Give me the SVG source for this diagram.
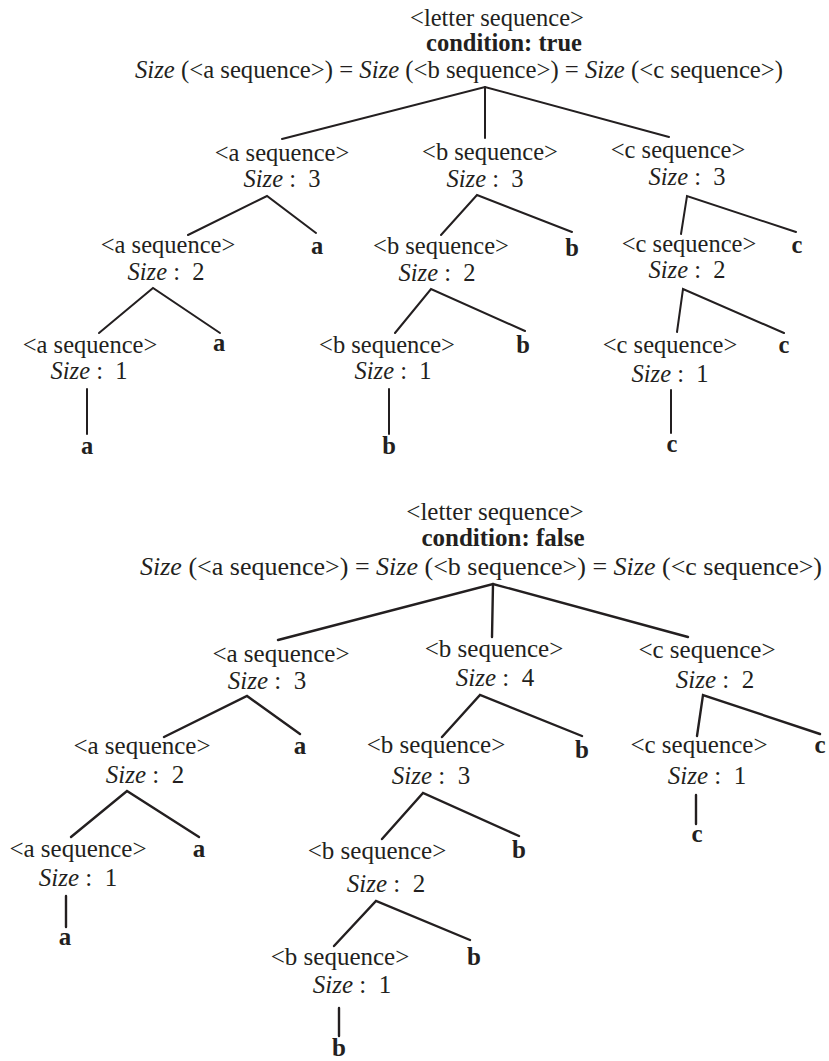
<svg xmlns="http://www.w3.org/2000/svg" width="829" height="1061" viewBox="0 0 829 1061">
  <style>
    text { font-family: "Liberation Serif", "Times New Roman", serif; fill: #231f20; text-anchor: middle; white-space: pre; }
    .t1 text { font-size: 24.5px; }
    .t2 text { font-size: 25px; }
    text.hd { text-anchor: start; }
    .b { font-weight: bold; }
    .it { font-style: italic; }
    .edge { stroke: #231f20; stroke-width: 2; fill: none; stroke-linecap: round; }
    .t2 .edge { stroke-width: 2.4; }
  </style>
  <rect width="829" height="1061" fill="#ffffff"/>

  <!-- ===== Tree 1: condition true ===== -->
  <g class="t1">
    <g id="connectors-1">
      <polyline class="edge" points="282,139 485,87 669,137"/>
      <line class="edge" x1="485" y1="87" x2="485" y2="138"/>
      <polyline class="edge" points="188,235 267,196 316,233"/>
      <polyline class="edge" points="441,235 477,195 572,232"/>
      <polyline class="edge" points="681,234 687,196 796,232"/>
      <polyline class="edge" points="99,333 153,288 220,333"/>
      <polyline class="edge" points="395,333 431,289 525,331"/>
      <polyline class="edge" points="677,332 683,289 784,333"/>
      <line class="edge" x1="87" y1="389" x2="87" y2="434"/>
      <line class="edge" x1="389" y1="389" x2="389" y2="434"/>
      <line class="edge" x1="671" y1="390" x2="671" y2="433"/>
    </g>

    <g id="t1-root">
      <text x="497" y="26">&lt;letter sequence&gt;</text>
      <text x="504" y="51" class="b">condition: true</text>
      <text class="hd" x="135" y="78" textLength="648" lengthAdjust="spacingAndGlyphs"><tspan class="it">Size</tspan> (&lt;a sequence&gt;) = <tspan class="it">Size</tspan> (&lt;b sequence&gt;) = <tspan class="it">Size</tspan> (&lt;c sequence&gt;)</text>
    </g>

    <g id="t1-a3">
      <text x="282" y="161">&lt;a sequence&gt;</text>
      <text x="282" y="187"><tspan class="it">Size</tspan> :  3</text>
    </g>
    <g id="t1-b3">
      <text x="490" y="160">&lt;b sequence&gt;</text>
      <text x="485" y="187"><tspan class="it">Size</tspan> :  3</text>
    </g>
    <g id="t1-c3">
      <text x="678" y="158">&lt;c sequence&gt;</text>
      <text x="687" y="185"><tspan class="it">Size</tspan> :  3</text>
    </g>

    <g id="t1-a2">
      <text x="168" y="253">&lt;a sequence&gt;</text>
      <text x="166" y="280"><tspan class="it">Size</tspan> :  2</text>
    </g>
    <g id="t1-a3-leaf"><text x="317" y="254" class="b">a</text></g>
    <g id="t1-b2">
      <text x="441" y="254">&lt;b sequence&gt;</text>
      <text x="437" y="281"><tspan class="it">Size</tspan> :  2</text>
    </g>
    <g id="t1-b3-leaf"><text x="572" y="256" class="b">b</text></g>
    <g id="t1-c2">
      <text x="689" y="252">&lt;c sequence&gt;</text>
      <text x="687" y="278"><tspan class="it">Size</tspan> :  2</text>
    </g>
    <g id="t1-c3-leaf"><text x="797" y="253" class="b">c</text></g>

    <g id="t1-a1">
      <text x="90" y="353">&lt;a sequence&gt;</text>
      <text x="89" y="379"><tspan class="it">Size</tspan> :  1</text>
    </g>
    <g id="t1-a2-leaf"><text x="219" y="351" class="b">a</text></g>
    <g id="t1-b1">
      <text x="387" y="353">&lt;b sequence&gt;</text>
      <text x="393" y="379"><tspan class="it">Size</tspan> :  1</text>
    </g>
    <g id="t1-b2-leaf"><text x="523" y="353" class="b">b</text></g>
    <g id="t1-c1">
      <text x="670" y="353">&lt;c sequence&gt;</text>
      <text x="670" y="382"><tspan class="it">Size</tspan> :  1</text>
    </g>
    <g id="t1-c2-leaf"><text x="784" y="353" class="b">c</text></g>

    <g id="t1-a1-leaf"><text x="87" y="454" class="b">a</text></g>
    <g id="t1-b1-leaf"><text x="389" y="454" class="b">b</text></g>
    <g id="t1-c1-leaf"><text x="672" y="452" class="b">c</text></g>
  </g>

  <!-- ===== Tree 2: condition false ===== -->
  <g class="t2">
    <g id="connectors-2">
      <polyline class="edge" points="278,640 493,584 688,637"/>
      <line class="edge" x1="493" y1="584" x2="492" y2="637"/>
      <polyline class="edge" points="164,737 247,696 300,734"/>
      <polyline class="edge" points="442,737 480,695 582,736"/>
      <polyline class="edge" points="697,736 703,695 820,734"/>
      <polyline class="edge" points="71,837 127,791 199,837"/>
      <polyline class="edge" points="382,839 423,793 519,836"/>
      <polyline class="edge" points="334,946 376,901 470,940"/>
      <line class="edge" x1="66" y1="896" x2="66" y2="927"/>
      <line class="edge" x1="339" y1="1008" x2="339" y2="1036"/>
      <line class="edge" x1="696" y1="795" x2="696" y2="824"/>
    </g>

    <g id="t2-root">
      <text x="495" y="520">&lt;letter sequence&gt;</text>
      <text x="503" y="546" class="b">condition: false</text>
      <text class="hd" x="140" y="575" textLength="682" lengthAdjust="spacingAndGlyphs"><tspan class="it">Size</tspan> (&lt;a sequence&gt;) = <tspan class="it">Size</tspan> (&lt;b sequence&gt;) = <tspan class="it">Size</tspan> (&lt;c sequence&gt;)</text>
    </g>

    <g id="t2-a3">
      <text x="281" y="662">&lt;a sequence&gt;</text>
      <text x="267" y="689"><tspan class="it">Size</tspan> :  3</text>
    </g>
    <g id="t2-b4">
      <text x="494" y="657">&lt;b sequence&gt;</text>
      <text x="495" y="686"><tspan class="it">Size</tspan> :  4</text>
    </g>
    <g id="t2-c2">
      <text x="707" y="658">&lt;c sequence&gt;</text>
      <text x="715" y="688"><tspan class="it">Size</tspan> :  2</text>
    </g>

    <g id="t2-a2">
      <text x="142" y="754">&lt;a sequence&gt;</text>
      <text x="145" y="783"><tspan class="it">Size</tspan> :  2</text>
    </g>
    <g id="t2-a3-leaf"><text x="300" y="754" class="b">a</text></g>
    <g id="t2-b3">
      <text x="436" y="753">&lt;b sequence&gt;</text>
      <text x="431" y="784"><tspan class="it">Size</tspan> :  3</text>
    </g>
    <g id="t2-b4-leaf"><text x="582" y="758" class="b">b</text></g>
    <g id="t2-c1">
      <text x="699" y="753">&lt;c sequence&gt;</text>
      <text x="707" y="784"><tspan class="it">Size</tspan> :  1</text>
    </g>
    <g id="t2-c2-leaf"><text x="820" y="753" class="b">c</text></g>
    <g id="t2-c1-leaf"><text x="697" y="842" class="b">c</text></g>

    <g id="t2-a1">
      <text x="78" y="857">&lt;a sequence&gt;</text>
      <text x="78" y="886"><tspan class="it">Size</tspan> :  1</text>
    </g>
    <g id="t2-a2-leaf"><text x="199" y="857" class="b">a</text></g>
    <g id="t2-b2">
      <text x="377" y="859">&lt;b sequence&gt;</text>
      <text x="386" y="892"><tspan class="it">Size</tspan> :  2</text>
    </g>
    <g id="t2-b3-leaf"><text x="519" y="858" class="b">b</text></g>
    <g id="t2-a1-leaf"><text x="65" y="945" class="b">a</text></g>

    <g id="t2-b1">
      <text x="340" y="965">&lt;b sequence&gt;</text>
      <text x="352" y="993"><tspan class="it">Size</tspan> :  1</text>
    </g>
    <g id="t2-b2-leaf"><text x="474" y="965" class="b">b</text></g>
    <g id="t2-b1-leaf"><text x="339" y="1056" class="b">b</text></g>
  </g>
</svg>
